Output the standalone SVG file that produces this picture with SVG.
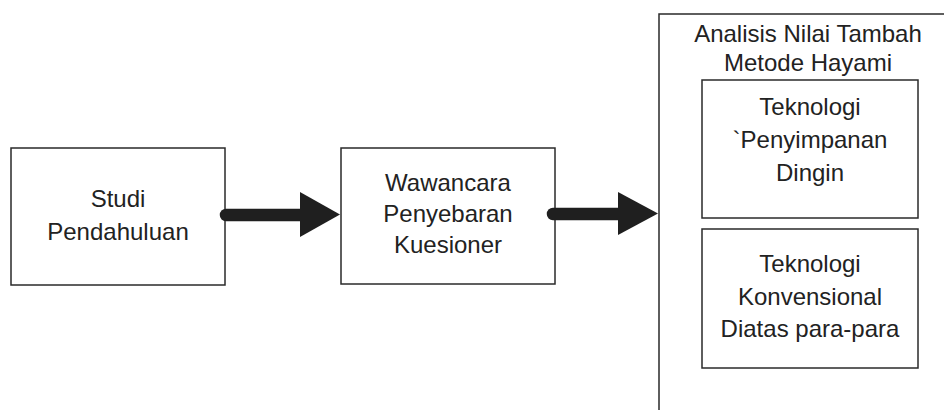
<svg xmlns="http://www.w3.org/2000/svg" width="944" height="410" viewBox="0 0 944 410">
<style>
.box{fill:none;stroke:#2a2a2a;stroke-width:1.5}
.t{font-family:"Liberation Sans",Arial,sans-serif;font-size:24px;fill:#222;text-anchor:middle}
.shaft{stroke:#1f1f1f;stroke-width:12.5;stroke-linecap:round;fill:none}
.head{fill:#1f1f1f}
</style>
<rect width="944" height="410" fill="#ffffff"/>
<g id="studi">
<rect class="box" x="11" y="148" width="214" height="137"/>
<text class="t" x="118" y="207">Studi</text>
<text class="t" x="118" y="240">Pendahuluan</text>
</g>
<g id="wawancara">
<rect class="box" x="341" y="148" width="214" height="136"/>
<text class="t" x="448" y="191">Wawancara</text>
<text class="t" x="448" y="222">Penyebaran</text>
<text class="t" x="448" y="253">Kuesioner</text>
</g>
<g id="analisis">
<rect class="box" x="659" y="14" width="300" height="410"/>
<text class="t" x="808" y="42">Analisis Nilai Tambah</text>
<text class="t" x="808" y="71">Metode Hayami</text>
</g>
<g id="dingin">
<rect class="box" x="702" y="80" width="216" height="138"/>
<text class="t" x="810" y="115">Teknologi</text>
<text class="t" x="810" y="148">`Penyimpanan</text>
<text class="t" x="810" y="181">Dingin</text>
</g>
<g id="konvensional">
<rect class="box" x="702" y="229" width="216" height="139"/>
<text class="t" x="810" y="272">Teknologi</text>
<text class="t" x="810" y="305">Konvensional</text>
<text class="t" x="810" y="337">Diatas para-para</text>
</g>
<g id="connectors">
<line class="shaft" x1="226" y1="215" x2="304" y2="215"/>
<polygon class="head" points="300,192 340,214.5 300,237"/>
<line class="shaft" x1="553" y1="214" x2="622" y2="214"/>
<polygon class="head" points="618,192 658,213.5 618,235"/>
</g>
</svg>
